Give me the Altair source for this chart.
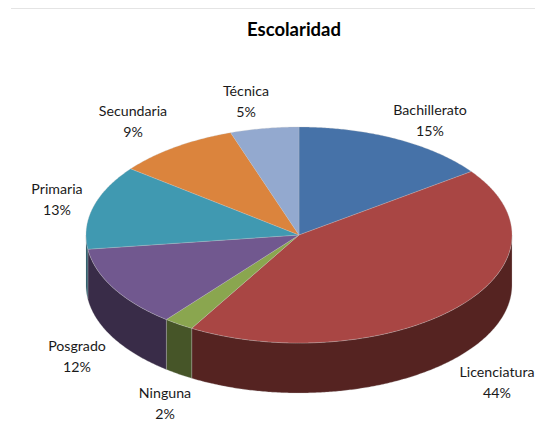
import math
import altair as alt

# Data
categories = ["Bachillerato", "Licenciatura", "Ninguna", "Posgrado", "Primaria", "Secundaria", "Técnica"]
labels = ["15%", "44%", "2%", "12%", "13%", "9%", "5%"]
shares = [15.0, 43.4, 2.3, 12.2, 12.6, 9.3, 5.2]
title_text = "Escolaridad"

# Styles
top_colors = ["#4672A8", "#A94644", "#8AA64F", "#71588F", "#4099B1", "#DB843D", "#93A9CF"]
side_colors = ["#2A4466", "#552321", "#465528", "#392C48", "#1F5060", "#7A4A20", "#55617A"]

# Layout of the tilted pie, in chart pixels
CX, CY, RX, RY, DEPTH = 291, 227, 213, 108, 50
label_anchor = {
    "Bachillerato": (422, 103), "Licenciatura": (489, 365), "Ninguna": (157, 386),
    "Posgrado": (69, 339), "Primaria": (49, 182), "Secundaria": (125, 104), "Técnica": (238, 84),
}
title_anchor = (286, 22)


def rim(t, dy=0):
    a = math.radians(t)
    return [CX + RX * math.sin(a), CY - RY * math.cos(a) + dy]


def steps(t0, t1):
    n = max(2, int(abs(t1 - t0)) * 2)
    return [t0 + (t1 - t0) * i / n for i in range(n + 1)]


def feature(name, ring, fill):
    return {
        "type": "Feature",
        "properties": {"name": name, "fill": fill},
        "geometry": {"type": "Polygon", "coordinates": [ring + [ring[0]]]},
    }


sides, tops = [], []
start = 0.0
total = sum(shares)
for name, share, tc, sc in zip(categories, shares, top_colors, side_colors):
    end = start + share / total * 360
    tops.append(feature(name, [[CX, CY]] + [rim(t) for t in steps(start, end)], tc))
    lo, hi = max(start, 90), min(end, 270)
    if lo < hi:
        ring = [rim(t) for t in steps(lo, hi)] + [rim(t, DEPTH) for t in steps(hi, lo)]
        sides.append(feature(name, ring, sc))
    start = end

projection = alt.Projection(type="identity", scale=1, translate=[0, 0]).to_dict()


def shapes(features):
    return (
        alt.Chart(alt.Data(values=features))
        .mark_geoshape(stroke="#c4c4c4", strokeWidth=0.4, strokeOpacity=0.7)
        .encode(fill=alt.Fill("properties.fill:N", scale=None))
        .project(**projection)
    )


label_rows = [
    {"text": f"{c}\n{p}", "lon": label_anchor[c][0], "lat": label_anchor[c][1]}
    for c, p in zip(categories, labels)
]
text_layer = (
    alt.Chart(alt.Data(values=label_rows))
    .mark_text(font="Lato", fontSize=14.2, color="#1a1a1a", lineBreak="\n", lineHeight=21, align="center", baseline="middle")
    .encode(longitude="lon:Q", latitude="lat:Q", text="text:N")
    .project(**projection)
)
title_layer = (
    alt.Chart(alt.Data(values=[{"text": title_text, "lon": title_anchor[0], "lat": title_anchor[1]}]))
    .mark_text(font="Lato", fontSize=18.5, fontWeight="bold", color="#000000", align="center", baseline="middle")
    .encode(longitude="lon:Q", latitude="lat:Q", text="text:N")
    .project(**projection)
)

frame = alt.Chart(alt.Data(values=[{"a": 1}])).mark_rule(color="#e4e4e4", strokeWidth=1).encode(
    x=alt.value(3), x2=alt.value(527), y=alt.value(0.5)
)

chart = (
    alt.layer(frame, shapes(sides), shapes(tops), text_layer, title_layer)
    .properties(width=527, height=426, padding=0, autosize=alt.AutoSizeParams(type="none"))
    .configure_view(stroke=None)
)
chart.save("out.html", embed_options={"renderer": "svg", "actions": False})
